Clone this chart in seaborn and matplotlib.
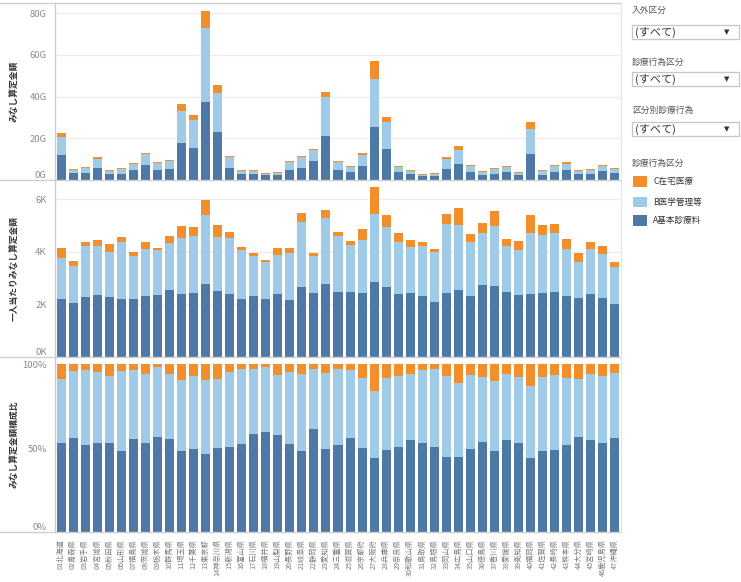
import matplotlib
matplotlib.use('Agg')
import matplotlib.pyplot as plt
import seaborn as sns
import pandas as pd
import numpy as np
from matplotlib.patches import Rectangle
from matplotlib.lines import Line2D

# ---------------- data ----------------
prefectures = ['01北海道', '02青森県', '03岩手県', '04宮城県', '05秋田県', '06山形県', '07福島県',
               '08茨城県', '09栃木県', '10群馬県', '11埼玉県', '12千葉県', '13東京都', '14神奈川県',
               '15新潟県', '16富山県', '17石川県', '18福井県', '19山梨県', '20長野県', '21岐阜県',
               '22静岡県', '23愛知県', '24三重県', '25滋賀県', '26京都府', '27大阪府', '28兵庫県',
               '29奈良県', '30和歌山県', '31鳥取県', '32島根県', '33岡山県', '34広島県', '35山口県',
               '36徳島県', '37香川県', '38愛媛県', '39高知県', '40福岡県', '41佐賀県', '42長崎県',
               '43熊本県', '44大分県', '45宮崎県', '46鹿児島県', '47沖縄県']

categories = ['C在宅医療', 'B医学管理等', 'A基本診療料']

# みなし算定金額 (G)
amount_a = [12.0, 3.4, 3.4, 5.8, 2.9, 2.9, 4.8, 7.2, 4.8, 5.3, 17.8, 15.4, 37.4, 23.0, 5.8, 2.9,
            2.9, 2.4, 2.4, 4.8, 5.8, 9.1, 21.1, 4.8, 3.8, 6.7, 25.4, 14.9, 3.8, 2.9, 1.9, 1.9,
            5.3, 7.7, 3.8, 2.4, 2.9, 3.8, 2.4, 12.5, 2.4, 3.8, 4.8, 2.9, 2.9, 4.3, 3.4]
amount_b = [8.6, 1.4, 2.5, 4.3, 1.4, 2.4, 2.9, 5.4, 3.4, 3.8, 15.3, 13.4, 35.6, 18.8, 5.2, 1.3,
            1.3, 0.5, 1.0, 3.8, 5.2, 5.3, 18.7, 3.8, 2.4, 5.3, 23.1, 12.9, 2.4, 1.4, 0.5, 1.0,
            4.8, 6.7, 2.9, 1.4, 2.4, 2.4, 1.0, 12.0, 1.8, 2.9, 2.9, 1.4, 1.9, 2.4, 1.9]
amount_c = [2.0, 0.5, 0.5, 0.9, 0.5, 0.5, 0.5, 0.4, 0.4, 0.5, 3.4, 2.4, 8.1, 3.8, 0.7, 0.6,
            0.6, 0.5, 0.4, 0.5, 0.7, 0.5, 2.4, 0.5, 0.5, 1.0, 8.6, 2.4, 0.5, 0.5, 0.5, 0.5,
            0.9, 1.9, 0.5, 0.5, 0.5, 0.5, 0.4, 3.3, 0.6, 0.5, 0.9, 0.5, 0.5, 0.5, 0.5]

# 一人当たりみなし算定金額 (K)
per_a = [2.20, 2.04, 2.27, 2.35, 2.27, 2.20, 2.20, 2.31, 2.35, 2.54, 2.39, 2.43, 2.77, 2.50,
         2.39, 2.20, 2.31, 2.20, 2.39, 2.16, 2.65, 2.43, 2.77, 2.46, 2.46, 2.43, 2.84, 2.65,
         2.39, 2.43, 2.31, 2.08, 2.43, 2.54, 2.31, 2.73, 2.69, 2.46, 2.35, 2.39, 2.43, 2.46,
         2.31, 2.24, 2.39, 2.24, 2.01]
per_b = [1.58, 1.44, 1.95, 1.87, 1.72, 2.17, 1.64, 1.79, 1.71, 1.79, 2.13, 2.17, 2.63, 2.06,
         2.13, 1.86, 1.53, 1.41, 1.48, 1.79, 2.48, 1.41, 2.51, 2.14, 1.79, 2.02, 2.60, 2.29,
         1.98, 1.75, 1.91, 1.91, 2.62, 2.48, 2.06, 1.98, 2.29, 1.76, 1.71, 2.32, 2.21, 2.25,
         1.79, 1.37, 1.71, 1.67, 1.41]
per_c = [0.36, 0.16, 0.15, 0.22, 0.30, 0.19, 0.15, 0.27, 0.08, 0.27, 0.46, 0.34, 0.57, 0.46,
         0.23, 0.12, 0.11, 0.07, 0.27, 0.19, 0.34, 0.11, 0.31, 0.15, 0.16, 0.41, 1.02, 0.46,
         0.34, 0.26, 0.15, 0.11, 0.39, 0.64, 0.30, 0.38, 0.57, 0.26, 0.35, 0.69, 0.38, 0.34,
         0.38, 0.34, 0.27, 0.31, 0.19]

colors = {'A': '#4e79a7', 'B': '#a0cbe8', 'C': '#f28e2b'}

# ---------------- style ----------------
sns.set_style('white')
plt.rcParams['font.family'] = ['Noto Sans CJK JP', 'DejaVu Sans']

W, H = 741, 582
fig = plt.figure(figsize=(W / 100, H / 100), dpi=100)


def rect(l, t, r, b):
    return [l / W, 1 - b / H, (r - l) / W, (b - t) / H]


def fx(x):
    return x / W


def fy(y):
    return 1 - y / H


df = pd.DataFrame({'pref': prefectures,
                   'amt_a': amount_a, 'amt_b': amount_b, 'amt_c': amount_c,
                   'per_a': per_a, 'per_b': per_b, 'per_c': per_c})
df['amt_ab'] = df['amt_a'] + df['amt_b']
df['amt_abc'] = df['amt_ab'] + df['amt_c']
df['per_ab'] = df['per_a'] + df['per_b']
df['per_abc'] = df['per_ab'] + df['per_c']
df['pct_a'] = df['per_a'] / df['per_abc']
df['pct_ab'] = df['per_ab'] / df['per_abc']
df['pct_abc'] = df['per_abc'] / df['per_abc']

L, R = 55, 621
panels = [
    dict(t=3, b=180, cols=('amt_abc', 'amt_ab', 'amt_a'), ylim=84.9,
         ticks=[0, 20, 40, 60, 80], labels=['0G', '20G', '40G', '60G', '80G'],
         title='みなし算定金額'),
    dict(t=180, b=357, cols=('per_abc', 'per_ab', 'per_a'), ylim=6.74,
         ticks=[0, 2, 4, 6], labels=['0K', '2K', '4K', '6K'],
         title='一人当たりみなし算定金額'),
    dict(t=357, b=532, cols=('pct_abc', 'pct_ab', 'pct_a'), ylim=1.042,
         ticks=[0, 0.5, 1.0], labels=['0%', '50%', '100%'],
         title='みなし算定金額構成比'),
]

axes = []
for i, p in enumerate(panels):
    ax = fig.add_axes(rect(L, p['t'], R, p['b']))
    for col, key in zip(p['cols'], ['C', 'B', 'A']):
        sns.barplot(data=df, x='pref', y=col, color=colors[key], saturation=1,
                    width=0.75, ax=ax, errorbar=None, linewidth=0)
    ax.set_xlim(-0.5, len(prefectures) - 0.5)
    ax.set_ylim(0, p['ylim'])
    ax.set_ylabel('')
    ax.set_xlabel('')
    ax.set_yticks(p['ticks'])
    ax.set_yticklabels(p['labels'])
    ax.yaxis.grid(True, color='#ececec', lw=0.9)
    ax.set_axisbelow(True)
    ax.tick_params(axis='y', length=0, pad=6, labelsize=6.8, labelcolor='#8a8a8a')
    for s in ['top', 'right', 'bottom']:
        ax.spines[s].set_visible(False)
    ax.spines['left'].set_color('#cfcfcf')
    ax.spines['left'].set_linewidth(1.0)
    ylabs = ax.get_yticklabels()
    ylabs[0].set_va('bottom')
    if i < 2:
        ax.set_xticks([])
    else:
        ax.set_xticks(range(len(prefectures)))
        ax.set_xticklabels(prefectures, rotation=90, fontsize=5.2, color='#7a7a7a')
        ax.tick_params(axis='x', length=0, pad=5)
        ax.set_xticks(np.arange(len(prefectures) + 1) - 0.5, minor=True)
        ax.tick_params(axis='x', which='minor', length=4, color='#dcdcdc', width=0.8)
    fig.text(fx(15), fy((p['t'] + p['b']) / 2), p['title'], rotation=90,
             ha='center', va='center', fontsize=6.3, color='#333333', fontweight='bold')
    axes.append(ax)

# panel separators / borders
for y in [3, 180, 357, 532]:
    fig.add_artist(Line2D([fx(0), fx(R)], [fy(y), fy(y)], color='#cfcfcf', lw=1.0))
fig.add_artist(Line2D([fx(R), fx(R)], [fy(3), fy(532)], color='#e6e6e6', lw=0.8))

# ---------------- right side: filters ----------------
filters = [('入外区分', 10, 25, 39), ('診療行為区分', 62, 72, 86), ('区分別診療行為', 110, 122, 136)]
for title, ty, bt, bb in filters:
    fig.text(fx(632), fy(ty), title, ha='left', va='center', fontsize=6.3, color='#555555')
    fig.add_artist(Rectangle((fx(632), fy(bb)), fx(739) - fx(632), fy(bt) - fy(bb),
                             transform=fig.transFigure, facecolor='white',
                             edgecolor='#c6c6c6', lw=0.9))
    fig.text(fx(635), fy((bt + bb) / 2), '(すべて)', ha='left', va='center',
             fontsize=8, color='#333333')
    fig.text(fx(727), fy((bt + bb) / 2), '▼', ha='center', va='center',
             fontsize=5, color='#333333', family=['DejaVu Sans'])

# legend
fig.text(fx(632), fy(163), '診療行為区分', ha='left', va='center', fontsize=6.3, color='#555555')
legend_items = [('C', categories[0], 176, 187), ('B', categories[1], 197, 207),
                ('A', categories[2], 215, 226)]
for key, label, t, b in legend_items:
    fig.add_artist(Rectangle((fx(633), fy(b)), fx(647) - fx(633), fy(t) - fy(b),
                             transform=fig.transFigure, facecolor=colors[key], lw=0))
    fig.text(fx(653), fy((t + b) / 2), label, ha='left', va='center', fontsize=6.2,
             color='#333333')

fig.savefig('out.png', dpi=100)
